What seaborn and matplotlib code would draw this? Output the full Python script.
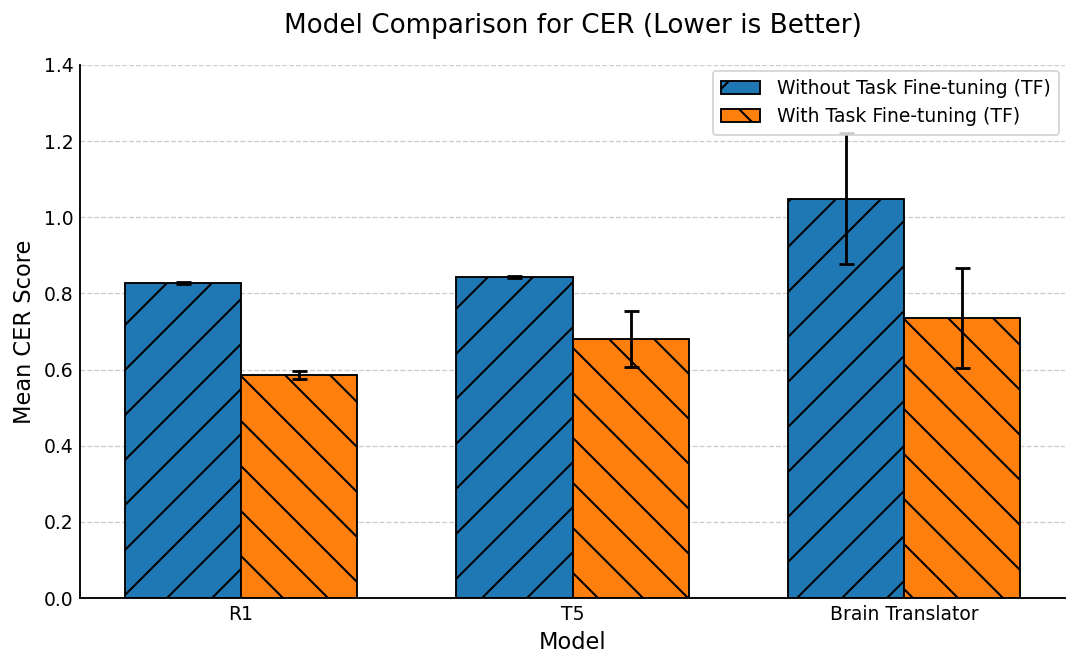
import matplotlib
matplotlib.use("Agg")
import matplotlib.pyplot as plt
from matplotlib.patches import Patch
import seaborn as sns
import pandas as pd

models = ["R1", "T5", "Brain Translator"]
series = ["Without Task Fine-tuning (TF)", "With Task Fine-tuning (TF)"]
cer_without = [0.828, 0.843, 1.049]
err_without = [0.002, 0.003, 0.173]
cer_with = [0.586, 0.680, 0.736]
err_with = [0.011, 0.074, 0.131]
colors = ["#1f77b4", "#ff7f0e"]
hatches = ["/", "\\"]

df = pd.DataFrame({
    "Model": models * 2,
    "Series": [series[0]] * 3 + [series[1]] * 3,
    "CER": cer_without + cer_with,
})
errs = [err_without, err_with]

sns.set_style("white")
plt.rcParams["font.family"] = ["DejaVu Sans"]
plt.rcParams["text.color"] = "black"
plt.rcParams["axes.labelcolor"] = "black"
plt.rcParams["xtick.color"] = "black"
plt.rcParams["ytick.color"] = "black"
plt.rcParams["hatch.linewidth"] = 1.1

DPI = 135
fig = plt.figure(figsize=(1079 / DPI, 667 / DPI), dpi=DPI)
ax = fig.add_axes([80 / 1079, (667 - 598) / 667, (1065 - 80) / 1079, (598 - 65) / 667])

sns.barplot(data=df, x="Model", y="CER", hue="Series", hue_order=series,
            palette=colors, saturation=1, width=0.7, errorbar=None,
            edgecolor="black", linewidth=1.0, legend=False, ax=ax)

for cont, h, e in zip(ax.containers, hatches, errs):
    xs = []
    ys = []
    for bar in cont:
        bar.set_hatch(h)
        xs.append(bar.get_x() + bar.get_width() / 2)
        ys.append(bar.get_height())
    ax.errorbar(xs, ys, yerr=e, fmt="none", ecolor="black", elinewidth=1.5,
                capsize=4, capthick=1.5, zorder=5)

ax.set_ylim(0, 1.4)
ax.set_yticks([0.0, 0.2, 0.4, 0.6, 0.8, 1.0, 1.2, 1.4])
ax.yaxis.grid(True, linestyle="--", color="#cccccc", linewidth=0.7)
ax.set_axisbelow(True)
for s in ["top", "right"]:
    ax.spines[s].set_visible(False)
for s in ["left", "bottom"]:
    ax.spines[s].set_color("black")
    ax.spines[s].set_linewidth(1.0)
ax.tick_params(axis="both", direction="in", labelsize=10, length=3.5,
               color="black", labelcolor="black")

ax.set_title("Model Comparison for CER (Lower is Better)", fontsize=14,
             pad=17, color="black")
ax.set_xlabel("Model", fontsize=12, color="black")
ax.set_ylabel("Mean CER Score", fontsize=12, color="black")

handles = [Patch(facecolor=c, edgecolor="black", hatch=h, label=s)
           for c, h, s in zip(colors, hatches, series)]
ax.legend(handles=handles, loc="upper right", fontsize=10, frameon=True,
          borderaxespad=0.3, labelcolor="black", handlelength=2.1,
          handletextpad=0.9, borderpad=0.45)

fig.savefig("out.png", dpi=DPI)
